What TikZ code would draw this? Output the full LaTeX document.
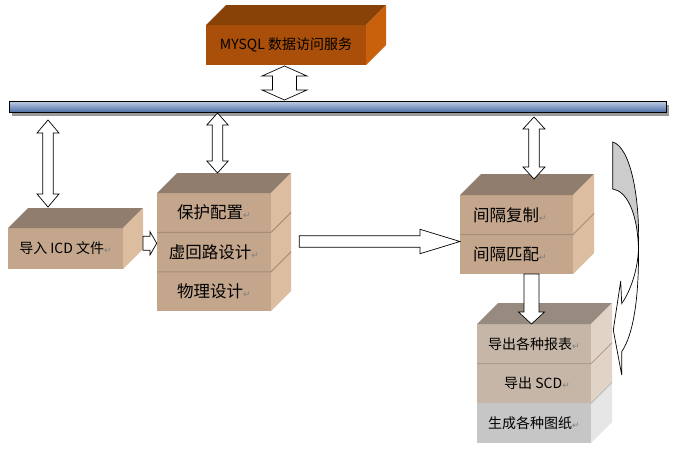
\documentclass[tikz,border=0pt]{standalone}
\usepackage{fontspec}
\setmainfont{Noto Sans CJK SC}
\newfontfamily\dejavu{DejaVu Sans}
\usetikzlibrary{calc}
\definecolor{tanfront}{HTML}{C4A68D}
\definecolor{tantop}{HTML}{917D6D}
\definecolor{tanright}{HTML}{DDBD9F}
\definecolor{tanline}{HTML}{A68E78}
\definecolor{lightfront}{HTML}{C5B6A7}
\definecolor{lighttop}{HTML}{978B80}
\definecolor{lightright}{HTML}{E1D3C5}
\definecolor{lightline}{HTML}{AD9E90}
\definecolor{grayfront}{HTML}{C6C6C6}
\definecolor{grayright}{HTML}{E6E6E6}
\definecolor{mysqlfront}{HTML}{A94F09}
\definecolor{mysqltop}{HTML}{884208}
\definecolor{mysqlright}{HTML}{C9600C}
\definecolor{txt}{HTML}{000000}
\definecolor{busdark}{HTML}{4A6BA6}
\definecolor{buslight}{HTML}{BCCBE2}
\definecolor{busmid}{HTML}{E2E8F2}
\newcommand\retmk{\textcolor{gray}{\fontsize{9}{9}\selectfont\dejavu ↵}}
% top face: name, colour, depth
\newcommand\topface[3]{\fill[#2] (#1.north west) -- ++(#3,-#3) -- ([shift={(#3,-#3)}]#1.north east) -- (#1.north east) -- cycle;}
% right face: name, colour, depth
\newcommand\rightface[3]{\fill[#2] (#1.north east) -- ++(#3,-#3) -- ([shift={(#3,-#3)}]#1.south east) -- (#1.south east) -- cycle;}
% divider: name, colour, depth
\newcommand\divider[3]{\draw[#2,line width=1pt] (#1.north west) -- (#1.north east) -- ++(#3,-#3);}
% vertical double block arrow: cx, ytop, ybot, head half, shaft half, head length
\newcommand\vdarrow[6]{\draw[blockarrow] (#1,#2) -- (#1+#4,#2+#6) -- (#1+#5,#2+#6) -- (#1+#5,#3-#6) -- (#1+#4,#3-#6) -- (#1,#3) -- (#1-#4,#3-#6) -- (#1-#5,#3-#6) -- (#1-#5,#2+#6) -- (#1-#4,#2+#6) -- cycle;}
% right block arrow: xleft, cy, xheadbase, xtip, head half, shaft half
\newcommand\rarrow[6]{\draw[blockarrow] (#1,#2-#6) -- (#3,#2-#6) -- (#3,#2-#5) -- (#4,#2) -- (#3,#2+#5) -- (#3,#2+#6) -- (#1,#2+#6) -- cycle;}
% down block arrow: cx, ytop, yheadbase, ytip, head half, shaft half
\newcommand\darrow[6]{\draw[blockarrow] (#1-#6,#2) -- (#1+#6,#2) -- (#1+#6,#3) -- (#1+#5,#3) -- (#1,#4) -- (#1-#5,#3) -- (#1-#6,#3) -- cycle;}
\begin{document}
\begin{tikzpicture}[x=1pt,y=-1pt,
  face/.style={inner sep=0pt, outer sep=0pt, text=txt},
  blockarrow/.style={draw=black, fill=white, line width=0.7pt, line join=miter},
  big/.style={font=\fontsize{16.5}{17}\selectfont},
  small/.style={font=\fontsize{14}{15}\selectfont}]
\useasboundingbox (0,0) rectangle (675,453);

% MYSQL box
\node[face, small, fill=mysqlfront, minimum width=160pt, minimum height=40pt] (mysql) at (286,45) {MYSQL 数据访问服务};
\topface{mysql}{mysqltop}{20}
\rightface{mysql}{mysqlright}{20}

% bus bar
\fill[gray!80] (12,104.5) rectangle (669,115.5);
\node[inner sep=0pt, outer sep=0pt, minimum width=657pt, minimum height=11pt, draw=black, line width=0.8pt,
  top color=buslight, middle color=busmid, bottom color=busdark] (bus) at (337.5,107) {};

% import ICD box
\node[face, small, fill=tanfront, minimum width=115pt, minimum height=41pt] (icd) at (65.5,248.5) {导入 ICD 文件\retmk};
\topface{icd}{tantop}{20}
\rightface{icd}{tanright}{20}

% middle stack
\node[face, big, fill=tanfront, minimum width=114pt, minimum height=39.4pt] (bh) at (214,212.7) {保护配置\retmk};
\node[face, big, fill=tanfront, minimum width=114pt, minimum height=39.4pt, anchor=north] (xhl) at (bh.south) {虚回路设计\retmk};
\node[face, big, fill=tanfront, minimum width=114pt, minimum height=39.4pt, anchor=north] (wl) at (xhl.south) {物理设计\retmk};
\topface{bh}{tantop}{20}
\rightface{bh}{tanright}{20}
\rightface{xhl}{tanright}{20}
\rightface{wl}{tanright}{20}
\divider{xhl}{tanline}{20}
\divider{wl}{tanline}{20}

% bay stack
\node[face, big, fill=tanfront, minimum width=113pt, minimum height=39.5pt, text width=87pt, align=left] (jgfz) at (516.5,214.75) {间隔复制\retmk};
\node[face, big, fill=tanfront, minimum width=113pt, minimum height=39.5pt, text width=87pt, align=left, anchor=north] (jgpp) at (jgfz.south) {间隔匹配\retmk};
\topface{jgfz}{tantop}{21}
\rightface{jgfz}{tanright}{21}
\rightface{jgpp}{tanright}{21}
\divider{jgpp}{tanline}{21}

% export stack
\node[face, small, fill=lightfront, minimum width=114pt, minimum height=39.7pt] (bb) at (534,343.85) {导出各种报表\retmk};
\node[face, small, fill=lightfront, minimum width=114pt, minimum height=39.7pt, anchor=north] (scd) at (bb.south) {\hspace{6pt}导出 SCD\retmk};
\node[face, small, fill=grayfront, minimum width=114pt, minimum height=39.7pt, anchor=north] (tz) at (scd.south) {生成各种图纸\retmk};
\topface{bb}{lighttop}{21}
\rightface{bb}{lightright}{21}
\rightface{scd}{lightright}{21}
\rightface{tz}{grayright}{21}
\divider{scd}{lightline}{21}
\draw[gray!60, line width=0.6pt] (tz.north east) -- ++(21,-21);

% block arrows
\vdarrow{284.5}{66}{100}{22.5}{12}{10}
\vdarrow{48}{120}{207}{11}{5.3}{13}
\vdarrow{217.5}{113}{173}{10.7}{5.3}{12}
\vdarrow{534}{117}{179}{11}{5.3}{12}
\rarrow{143}{243.3}{150}{156.7}{11.7}{7}
\rarrow{299.3}{241.5}{420}{460}{12.2}{5.8}
\darrow{531.5}{274}{312}{324}{13}{7.5}

% curved arrow
\coordinate (cx) at (638.5,248);
\filldraw[fill=gray!40, draw=black, line width=0.7pt]
  (612.7,142) .. controls (630,147) and (640,195) .. (cx)
  .. controls (637,210) and (626,191) .. (612.7,189) -- cycle;
\filldraw[fill=white, draw=black, line width=0.7pt]
  (cx) .. controls (638,270) and (630,292) .. (621.7,303.5)
  -- (620.7,281) -- (613.3,330) -- (621.7,375) -- (621.7,351.7)
  .. controls (633,335) and (639,300) .. (cx) -- cycle;
\end{tikzpicture}
\end{document}
